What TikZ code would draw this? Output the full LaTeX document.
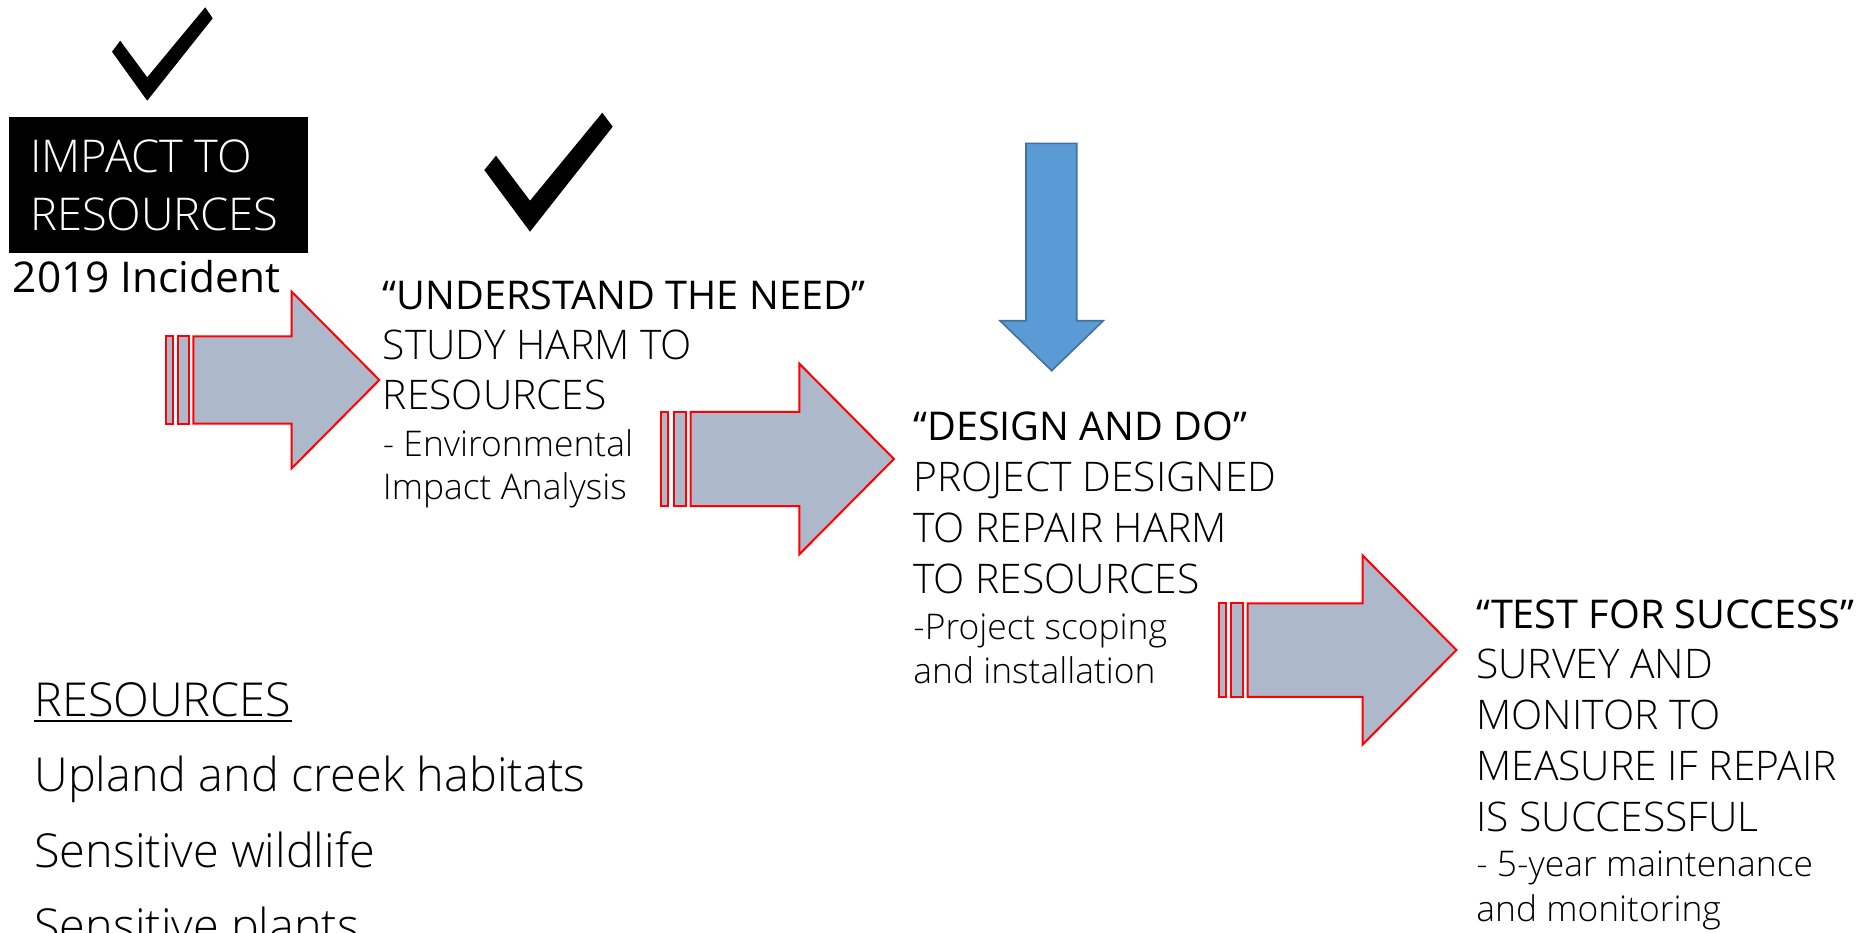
\documentclass[tikz,border=0pt]{standalone}
\usepackage{fontspec}
\setmainfont{Open Sans}
\newfontfamily\thinfont{Open Sans Light}

\definecolor{shaftgray}{HTML}{ADB9CA}
\definecolor{dropblue}{HTML}{5B9BD5}
\definecolor{dropblueline}{HTML}{41719C}

\tikzset{
  redarrow/.style={draw=red, fill=shaftgray, line width=1pt, line join=miter},
  bluearrow/.style={draw=dropblueline, fill=dropblue, line width=0.8pt},
  tick/.style={fill=black},
  boxtext/.style={anchor=base west, inner sep=0pt, text=white, font=\thinfont\fontsize{22.6}{28}\selectfont},
  heading/.style={anchor=base west, inner sep=0pt, font=\fontsize{19.8}{24}\selectfont},
  caps/.style={anchor=base west, inner sep=0pt, font=\thinfont\fontsize{20.4}{24}\selectfont},
  note/.style={anchor=base west, inner sep=0pt, font=\thinfont\fontsize{17.7}{20}\selectfont},
  listitem/.style={anchor=base west, inner sep=0pt, font=\thinfont\fontsize{23.4}{30}\selectfont},
}

\begin{document}
\begin{tikzpicture}[x=0.5pt,y=-0.5pt]
   \useasboundingbox (0,0) rectangle (1871,932);

   % ticks
   \fill[tick] (112,51.7) -- (120.2,40.7) -- (147.2,77.3) -- (205.2,7.3) -- (212.7,18.3) -- (147.2,100.7) -- cycle;
   \fill[tick] (484.3,170) -- (496,155.7) -- (530,200.7) -- (602.3,112.7) -- (612.7,126.7) -- (530,231.7) -- cycle;

   % black box
   \fill[black] (9,117) rectangle (308,253);
   \node[boxtext] (impact1) at (30,172.7) {IMPACT TO};
   \node[boxtext] (impact2) at (30,230) {RESOURCES};
   \node[heading, font=\fontsize{21.2}{24}\selectfont] (incident) at (12.5,292.7) {2019 Incident};

   % striped arrows: x of shaft start / y of middle / shaft length / scale
   \foreach \x/\y/\body/\s in {193.3/380/98.4/1, 690.7/459/108.6/1.08, 1247.7/650/115/1.07}{
     \draw[redarrow] ({\x-27.3*\s},{\y-43.7*\s}) rectangle ({\x-20.6*\s},{\y+43.7*\s});
     \draw[redarrow] ({\x-15.6*\s},{\y-43.7*\s}) rectangle ({\x-4.3*\s},{\y+43.7*\s});
     \draw[redarrow] (\x,{\y-43.7*\s}) -- ({\x+\body},{\y-43.7*\s}) -- ({\x+\body},{\y-88.3*\s})
        -- ({\x+\body+87.6*\s},\y) -- ({\x+\body},{\y+88.3*\s}) -- ({\x+\body},{\y+43.7*\s})
        -- (\x,{\y+43.7*\s}) -- cycle;
   }

   % blue arrow
   \draw[bluearrow] (1026,143.3) -- (1076.7,143.3) -- (1076.7,320.7) -- (1103.3,320.7)
      -- (1051.7,370.7) -- (1000,320.7) -- (1026,320.7) -- cycle;

   % understand the need
   \node[heading] (need) at (382.5,309.3) {“UNDERSTAND THE NEED”};
   \foreach \t [count=\i] in {STUDY HARM TO, RESOURCES}
     \node[caps] (need\i) at (382.5,{309.3+50*\i}) {\t};
   \foreach \t [count=\i] in {- Environmental, Impact Analysis}
     \node[note] (neednote\i) at (382.5,{413+43*\i}) {\t};

   % design and do
   \node[heading] (design) at (913,440.7) {“DESIGN AND DO”};
   \foreach \t [count=\i] in {PROJECT DESIGNED, TO REPAIR HARM, TO RESOURCES}
     \node[caps] (design\i) at (913,{440.7+51*\i}) {\t};
   \foreach \t [count=\i] in {-Project scoping, and installation}
     \node[note] (designnote\i) at (913,{595+44*\i}) {\t};

   % test for success
   \node[heading] (test) at (1476,628.3) {“TEST FOR SUCCESS”};
   \foreach \t [count=\i] in {SURVEY AND, MONITOR TO, MEASURE IF REPAIR, IS SUCCESSFUL}
     \node[caps] (test\i) at (1476,{627.3+51*\i}) {\t};
   \foreach \t [count=\i] in {- 5-year maintenance, and monitoring}
     \node[note] (testnote\i) at (1476,{831.7+45*\i}) {\t};

   % resource list
   \node[listitem] (res) at (34,716) {RESOURCES};
   \draw[line width=1.2pt] ([yshift=-2.6pt]res.base west) -- ([yshift=-2.6pt]res.base east);
   \foreach \t [count=\i] in {Upland and creek habitats, Sensitive wildlife, Sensitive plants}
     \node[listitem] (res\i) at (34,{716+75.5*\i}) {\t};
\end{tikzpicture}
\end{document}
